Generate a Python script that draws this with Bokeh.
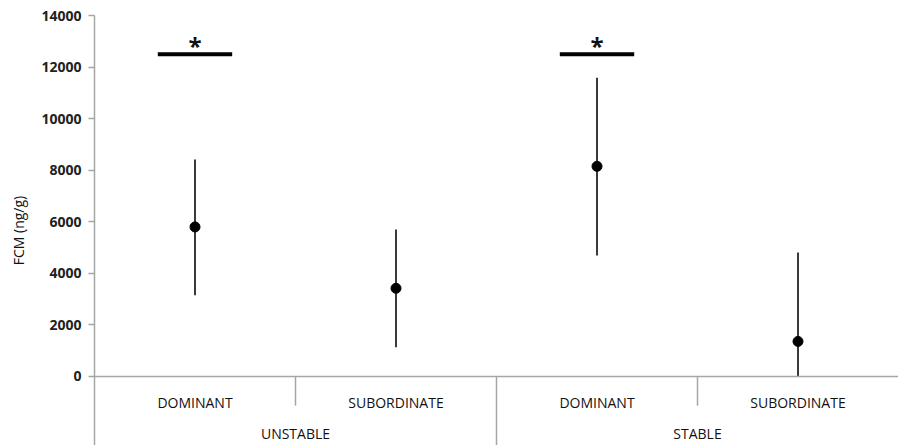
from bokeh.plotting import figure
from bokeh.models import Range1d, FixedTicker, Span
from bokeh.embed import file_html
from bokeh.resources import INLINE
from bokeh.core.properties import value

# ---- data ----
groups = ["UNSTABLE", "STABLE"]
ranks = ["DOMINANT", "SUBORDINATE"]
means = [5800, 3420, 8150, 1360]
lower = [3150, 1130, 4690, 0]
upper = [8420, 5700, 11590, 4810]
y_ticks = [0, 2000, 4000, 6000, 8000, 10000, 12000, 14000]
sig_index = [0, 2]
sig_y = 12500
sig_label = "*"
y_label = "FCM (ng/g)"

FONT = "Open Sans"
AXIS_GREY = "#a6a6a6"

n = len(groups) * len(ranks)
xs = [i + 0.5 for i in range(n)]
cat_labels = [r for g in groups for r in ranks]
group_centers = [g * len(ranks) + len(ranks) / 2 for g in range(len(groups))]

p = figure(width=898, height=445, x_range=Range1d(0, n), y_range=Range1d(-2676, 14000),
           output_backend="svg", toolbar_location=None, x_axis_location=None,
           min_border_left=94, min_border_right=0, min_border_top=15, min_border_bottom=0)
p.outline_line_color = None
p.grid.visible = False
p.background_fill_color = "white"

ax = p.yaxis[0]
ax.ticker = FixedTicker(ticks=y_ticks)
ax.axis_line_color = AXIS_GREY
ax.axis_line_width = 1.5
ax.major_tick_line_color = AXIS_GREY
ax.major_tick_line_width = 1.5
ax.major_tick_out = 6
ax.major_tick_in = 0
ax.minor_tick_line_color = None
ax.major_label_text_font = FONT
ax.major_label_text_font_size = "14px"
ax.major_label_text_font_style = "bold"
ax.major_label_text_color = "#222222"
ax.major_label_standoff = 7
ax.axis_label = y_label
ax.axis_label_text_font = FONT
ax.axis_label_text_font_size = "14px"
ax.axis_label_text_font_style = "normal"
ax.axis_label_text_color = "#111111"
ax.axis_label_standoff = 10

# baseline at zero
p.add_layout(Span(location=0, dimension="width", line_color=AXIS_GREY, line_width=1.5))

# category separators
sub_div = [g * len(ranks) + k for g in range(len(groups)) for k in range(1, len(ranks))]
grp_div = [g * len(ranks) for g in range(1, len(groups))]
p.segment(x0=sub_div, y0=[0] * len(sub_div), x1=sub_div, y1=[-1130] * len(sub_div),
          line_color=AXIS_GREY, line_width=1.5)
p.segment(x0=grp_div, y0=[0] * len(grp_div), x1=grp_div, y1=[-2676] * len(grp_div),
          line_color=AXIS_GREY, line_width=1.5)

# category labels
p.text(x=xs, y=[-1000] * n, text=cat_labels, text_font=value(FONT), text_font_size="14px",
       text_align="center", text_baseline="middle", text_color="#111111")
p.text(x=group_centers, y=[-2210] * len(groups), text=groups, text_font=value(FONT),
       text_font_size="14px", text_align="center", text_baseline="middle", text_color="#111111")

# error bars and means
p.segment(x0=xs, y0=lower, x1=xs, y1=upper, line_color="#3a3a3a", line_width=2)
p.scatter(x=xs, y=means, size=10, fill_color="black", line_color="black")

# significance markers
sx = [xs[i] for i in sig_index]
p.segment(x0=[x - 0.185 for x in sx], y0=[sig_y] * len(sx), x1=[x + 0.185 for x in sx],
          y1=[sig_y] * len(sx), line_color="black", line_width=4)
p.text(x=sx, y=[sig_y] * len(sx), text=[sig_label] * len(sx), text_font=value(FONT),
       text_font_size="24px", text_font_style="bold", text_align="center",
       text_baseline="middle", y_offset=-9, text_color="#111111")

open("out.html", "w").write(file_html(p, INLINE))
